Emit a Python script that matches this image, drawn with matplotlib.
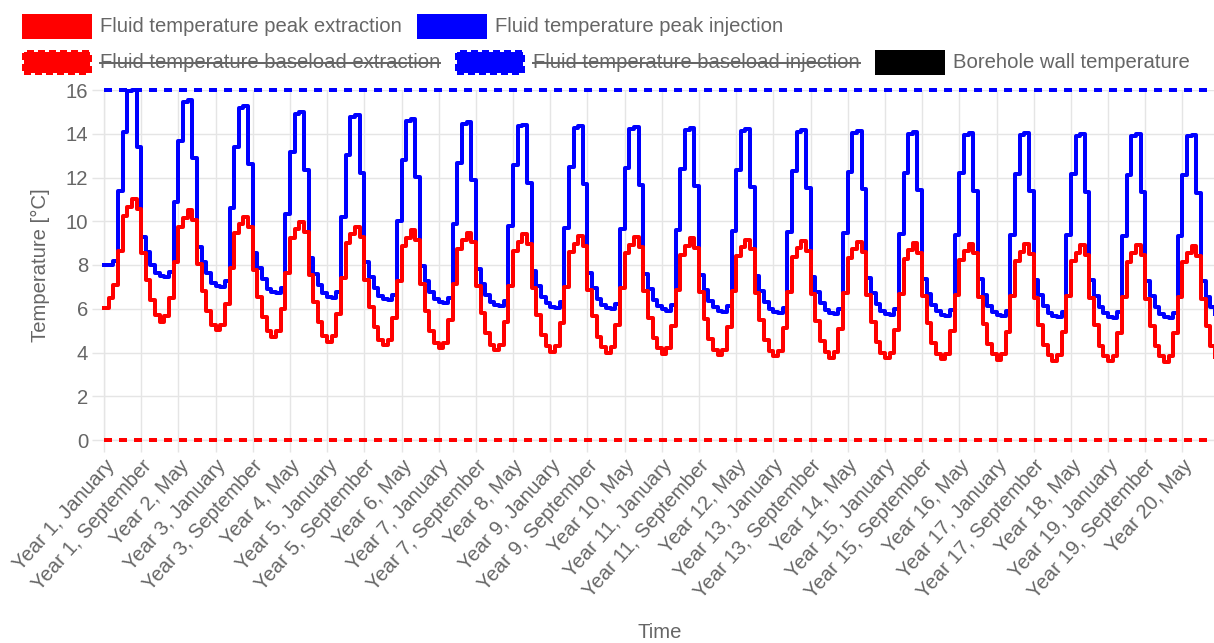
import matplotlib
matplotlib.use("Agg")
import matplotlib.pyplot as plt
from matplotlib.patches import Rectangle
from matplotlib.lines import Line2D
import numpy as np

plt.rcParams['font.family'] = ['Liberation Sans', 'DejaVu Sans']
plt.rcParams['lines.scale_dashes'] = False

# ---------------- data ----------------
month_names = ["January", "February", "March", "April", "May", "June", "July",
               "August", "September", "October", "November", "December"]
n_years = 20

peak_extraction_by_year = [
    [6.02, 6.48, 7.09, 8.65, 10.25, 10.65, 11.0, 10.55, 8.55, 7.32, 6.4, 5.71],
    [5.41, 5.66, 6.5, 8.15, 9.75, 10.15, 10.5, 10.05, 8.05, 6.82, 5.9, 5.28],
    [5.03, 5.28, 6.21, 7.86, 9.46, 9.86, 10.21, 9.76, 7.76, 6.53, 5.61, 4.97],
    [4.72, 4.97, 5.98, 7.63, 9.23, 9.63, 9.98, 9.53, 7.53, 6.3, 5.38, 4.75],
    [4.5, 4.75, 5.75, 7.4, 9.0, 9.4, 9.75, 9.3, 7.3, 6.07, 5.15, 4.59],
    [4.34, 4.59, 5.6, 7.25, 8.85, 9.25, 9.6, 9.15, 7.15, 5.92, 5.0, 4.45],
    [4.2, 4.45, 5.48, 7.13, 8.73, 9.13, 9.48, 9.03, 7.03, 5.8, 4.88, 4.35],
    [4.1, 4.35, 5.4, 7.05, 8.65, 9.05, 9.4, 8.95, 6.95, 5.72, 4.8, 4.29],
    [4.04, 4.29, 5.33, 6.98, 8.58, 8.98, 9.33, 8.88, 6.88, 5.65, 4.73, 4.23],
    [3.98, 4.23, 5.28, 6.93, 8.53, 8.93, 9.28, 8.83, 6.83, 5.6, 4.68, 4.19],
    [3.94, 4.19, 5.22, 6.87, 8.47, 8.87, 9.22, 8.77, 6.77, 5.54, 4.62, 4.13],
    [3.88, 4.13, 5.16, 6.81, 8.41, 8.81, 9.16, 8.71, 6.71, 5.48, 4.56, 4.07],
    [3.82, 4.07, 5.11, 6.76, 8.36, 8.76, 9.11, 8.66, 6.66, 5.43, 4.51, 4.02],
    [3.77, 4.02, 5.06, 6.71, 8.31, 8.71, 9.06, 8.61, 6.61, 5.38, 4.46, 3.98],
    [3.73, 3.98, 5.02, 6.67, 8.27, 8.67, 9.02, 8.57, 6.57, 5.34, 4.42, 3.94],
    [3.69, 3.94, 4.98, 6.63, 8.23, 8.63, 8.98, 8.53, 6.53, 5.3, 4.38, 3.91],
    [3.66, 3.91, 4.95, 6.6, 8.2, 8.6, 8.95, 8.5, 6.5, 5.27, 4.35, 3.88],
    [3.63, 3.88, 4.92, 6.57, 8.17, 8.57, 8.92, 8.47, 6.47, 5.24, 4.32, 3.85],
    [3.6, 3.85, 4.9, 6.55, 8.15, 8.55, 8.9, 8.45, 6.45, 5.22, 4.3, 3.83],
    [3.58, 3.83, 4.88, 6.53, 8.13, 8.53, 8.88, 8.43, 6.43, 5.2, 4.28, 3.81],
]

peak_injection_by_year = [
    [8.0, 8.0, 8.2, 11.4, 14.1, 15.95, 16.0, 13.4, 9.3, 8.6, 8.0, 7.65],
    [7.5, 7.45, 7.7, 10.89, 13.69, 15.46, 15.54, 12.89, 8.84, 8.14, 7.64, 7.2],
    [7.05, 7.0, 7.25, 10.61, 13.41, 15.18, 15.26, 12.61, 8.56, 7.86, 7.36, 6.92],
    [6.77, 6.72, 6.97, 10.35, 13.15, 14.92, 15.0, 12.35, 8.3, 7.6, 7.1, 6.7],
    [6.55, 6.5, 6.75, 10.21, 13.01, 14.78, 14.86, 12.21, 8.16, 7.46, 6.96, 6.58],
    [6.43, 6.38, 6.63, 10.01, 12.81, 14.58, 14.66, 12.01, 7.96, 7.26, 6.76, 6.45],
    [6.3, 6.25, 6.5, 9.87, 12.67, 14.44, 14.52, 11.87, 7.82, 7.12, 6.62, 6.32],
    [6.17, 6.12, 6.37, 9.77, 12.57, 14.34, 14.42, 11.77, 7.72, 7.02, 6.52, 6.25],
    [6.1, 6.05, 6.3, 9.69, 12.49, 14.26, 14.34, 11.69, 7.64, 6.94, 6.44, 6.18],
    [6.03, 5.98, 6.23, 9.65, 12.45, 14.22, 14.3, 11.65, 7.6, 6.9, 6.4, 6.12],
    [5.97, 5.92, 6.17, 9.6, 12.4, 14.17, 14.25, 11.6, 7.55, 6.85, 6.35, 6.06],
    [5.91, 5.86, 6.11, 9.55, 12.35, 14.12, 14.2, 11.55, 7.5, 6.8, 6.3, 6.0],
    [5.85, 5.8, 6.05, 9.5, 12.3, 14.07, 14.15, 11.5, 7.45, 6.75, 6.25, 5.96],
    [5.81, 5.76, 6.01, 9.46, 12.26, 14.03, 14.11, 11.46, 7.41, 6.71, 6.21, 5.92],
    [5.77, 5.72, 5.97, 9.42, 12.22, 13.99, 14.07, 11.42, 7.37, 6.67, 6.17, 5.88],
    [5.73, 5.68, 5.93, 9.39, 12.19, 13.96, 14.04, 11.39, 7.34, 6.64, 6.14, 5.85],
    [5.7, 5.65, 5.9, 9.37, 12.17, 13.94, 14.02, 11.37, 7.32, 6.62, 6.12, 5.82],
    [5.67, 5.62, 5.87, 9.35, 12.15, 13.92, 14.0, 11.35, 7.3, 6.6, 6.1, 5.79],
    [5.64, 5.59, 5.84, 9.33, 12.13, 13.9, 13.98, 11.33, 7.28, 6.58, 6.08, 5.76],
    [5.61, 5.56, 5.81, 9.31, 12.11, 13.88, 13.96, 11.31, 7.26, 6.56, 6.06, 5.74],
]

max_fluid_temperature = 16.0
min_fluid_temperature = 0.0

legend_labels = ["Fluid temperature peak extraction",
                 "Fluid temperature peak injection",
                 "Fluid temperature baseload extraction",
                 "Fluid temperature baseload injection",
                 "Borehole wall temperature"]
y_ticks = [0, 2, 4, 6, 8, 10, 12, 14, 16]
label_step = 8

# ---------------- figure ----------------
W, H = 1214, 643
fig = plt.figure(figsize=(W / 100, H / 100), dpi=100)
FS = 14.6


def fx(x):
    return x / W


def fy(y):
    return 1 - y / H


def px2pt(p):
    return p * 0.72


left, right, top, bottom = 104, 1215, 90, 440
ax = fig.add_axes([fx(left), fy(bottom), (right - left) / W, (bottom - top) / H])

red = [v for yr in peak_extraction_by_year for v in yr]
blue = [v for yr in peak_injection_by_year for v in yr]
labels = [f"Year {y + 1}, {m}" for y in range(n_years) for m in month_names]
x = np.arange(len(labels))

grid_c = '#e5e5e5'
text_c = '#666666'
LW = px2pt(4)

ax.step(x, blue, where='post', color='#0000ff', lw=LW, zorder=3, clip_on=False)
ax.step(x, red, where='post', color='#ff0000', lw=LW, zorder=4, clip_on=False)
ax.plot([x[0], x[-1]], [max_fluid_temperature] * 2, color='#0000ff', lw=LW,
        ls=(0, (px2pt(8), px2pt(7))), zorder=5, clip_on=False)
ax.plot([x[0], x[-1]], [min_fluid_temperature] * 2, color='#ff0000', lw=LW,
        ls=(0, (px2pt(8), px2pt(7))), zorder=5, clip_on=False)

ax.set_xlim(x[0], x[-1])
ax.set_ylim(0, 16)
ax.set_yticks(y_ticks)
ax.set_yticklabels([str(t) for t in y_ticks])
tick_idx = list(range(0, len(labels), label_step))
ax.set_xticks(tick_idx)
ax.set_xticklabels([labels[i] for i in tick_idx], rotation=48, ha='right',
                   va='top', rotation_mode='anchor')
ax.grid(True, color=grid_c, lw=1, zorder=0)
ax.set_axisbelow(True)
for s in ['top', 'right']:
    ax.spines[s].set_visible(False)
for s in ['left', 'bottom']:
    ax.spines[s].set_color(grid_c)
    ax.spines[s].set_linewidth(1)
ax.tick_params(axis='both', length=px2pt(12), width=1, color=grid_c,
               labelcolor=text_c, labelsize=FS)
ax.tick_params(axis='y', pad=px2pt(4))
ax.tick_params(axis='x', pad=px2pt(4))

fig.text(fx(40), fy(265), "Temperature [°C]", rotation=90, ha='center', va='center',
         color=text_c, fontsize=FS)
fig.text(fx(660), fy(633), "Time", ha='center', va='center', color=text_c, fontsize=FS)

# ---------------- legend ----------------
fig.canvas.draw()
rend = fig.canvas.get_renderer()
legend_items = [
    [(legend_labels[0], '#ff0000', False, False), (legend_labels[1], '#0000ff', False, False)],
    [(legend_labels[2], '#ff0000', True, True), (legend_labels[3], '#0000ff', True, True),
     (legend_labels[4], '#000000', False, False)],
]
row_centers = [26.5, 62.5]
box_w, box_h = 70, 25
for row, yc in zip(legend_items, row_centers):
    xc = 22
    for label, col, dashed, struck in row:
        if dashed:
            rect = Rectangle((fx(xc + 2), fy(yc + box_h / 2 - 2)), (box_w - 4) / W, (box_h - 4) / H,
                             transform=fig.transFigure, facecolor=col, edgecolor=col,
                             lw=px2pt(4), ls=(0, (px2pt(7), px2pt(4))))
        else:
            rect = Rectangle((fx(xc), fy(yc + box_h / 2)), box_w / W, box_h / H,
                             transform=fig.transFigure, facecolor=col, edgecolor='none')
        fig.add_artist(rect)
        t = fig.text(fx(xc + box_w + 8), fy(yc), label, ha='left', va='center',
                     color=text_c, fontsize=FS)
        wpx = t.get_window_extent(renderer=rend).width
        if struck:
            fig.add_artist(Line2D([fx(xc + box_w + 8), fx(xc + box_w + 8 + wpx)], [fy(yc), fy(yc)],
                                  transform=fig.transFigure, color=text_c, lw=px2pt(2)))
        xc = xc + box_w + 8 + wpx + 15

fig.savefig("out.png", dpi=100)
